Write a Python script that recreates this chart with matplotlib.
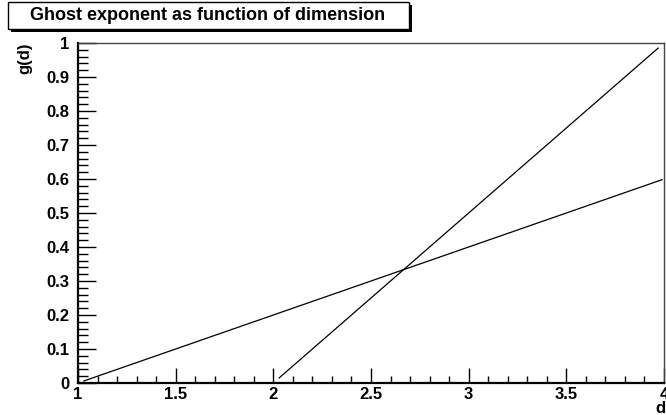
import matplotlib
matplotlib.use('Agg')
import matplotlib.pyplot as plt
from matplotlib.ticker import MultipleLocator, FormatStrFormatter
from matplotlib.patches import Rectangle

# endpoints of the two curves
d_lin = [1.03, 3.99]
g_lin = [0.006, 0.598]
d_steep = [2.03, 3.97]
g_steep = [0.015, 0.985]

title = "Ghost exponent as function of dimension"
xlabel = "d"
ylabel = "g(d)"

plt.rcParams['font.family'] = ['Liberation Sans', 'DejaVu Sans']
plt.rcParams['font.weight'] = 'bold'

fig = plt.figure(figsize=(6.66, 4.15), dpi=100)
ax = fig.add_axes([78 / 666, 32 / 415, 586 / 666, 340 / 415])

ax.plot(d_lin, g_lin, color='black', linewidth=0.9)
ax.plot(d_steep, g_steep, color='black', linewidth=0.9)

ax.set_xlim(1, 4)
ax.set_ylim(0, 1)

ax.xaxis.set_major_locator(MultipleLocator(0.5))
ax.xaxis.set_minor_locator(MultipleLocator(0.1))
ax.yaxis.set_major_locator(MultipleLocator(0.1))
ax.yaxis.set_minor_locator(MultipleLocator(0.02))
ax.xaxis.set_major_formatter(FormatStrFormatter('%g'))
ax.yaxis.set_major_formatter(FormatStrFormatter('%g'))

ax.tick_params(which='both', direction='in', labelsize=12, width=1)
ax.tick_params(axis='x', which='major', length=11, pad=3)
ax.tick_params(axis='x', which='minor', length=5)
ax.tick_params(axis='y', which='major', length=13, pad=6)
ax.tick_params(axis='y', which='minor', length=7)
for lab in ax.get_xticklabels() + ax.get_yticklabels():
    lab.set_fontweight('bold')

ax.spines['left'].set_linewidth(1.6)
ax.spines['bottom'].set_linewidth(1.6)
ax.spines['top'].set_linewidth(1.0)
ax.spines['right'].set_linewidth(1.0)
ax.spines['top'].set_color('#444444')
ax.spines['right'].set_color('#444444')

# axis titles placed ROOT-style at the ends of the axes
fig.text(665 / 666, 1 - 408 / 415, xlabel, ha='right', va='center',
         fontsize=12, fontweight='bold')
fig.text(25 / 666, 1 - 58 / 415, ylabel, ha='center', va='center',
         rotation=90, fontsize=12, fontweight='bold')

# title box with shadow
shadow = Rectangle((11 / 666, 1 - 32 / 415), 401 / 666, 27 / 415,
                   transform=fig.transFigure, facecolor='black',
                   edgecolor='black', linewidth=0)
box = Rectangle((8 / 666, 1 - 29 / 415), 401 / 666, 27 / 415,
                transform=fig.transFigure, facecolor='white',
                edgecolor='black', linewidth=1)
fig.patches.extend([shadow, box])
fig.text(208 / 666, 1 - 16 / 415, title, ha='center', va='center',
         fontsize=13, fontweight='bold')

fig.savefig('out.png', dpi=100)
